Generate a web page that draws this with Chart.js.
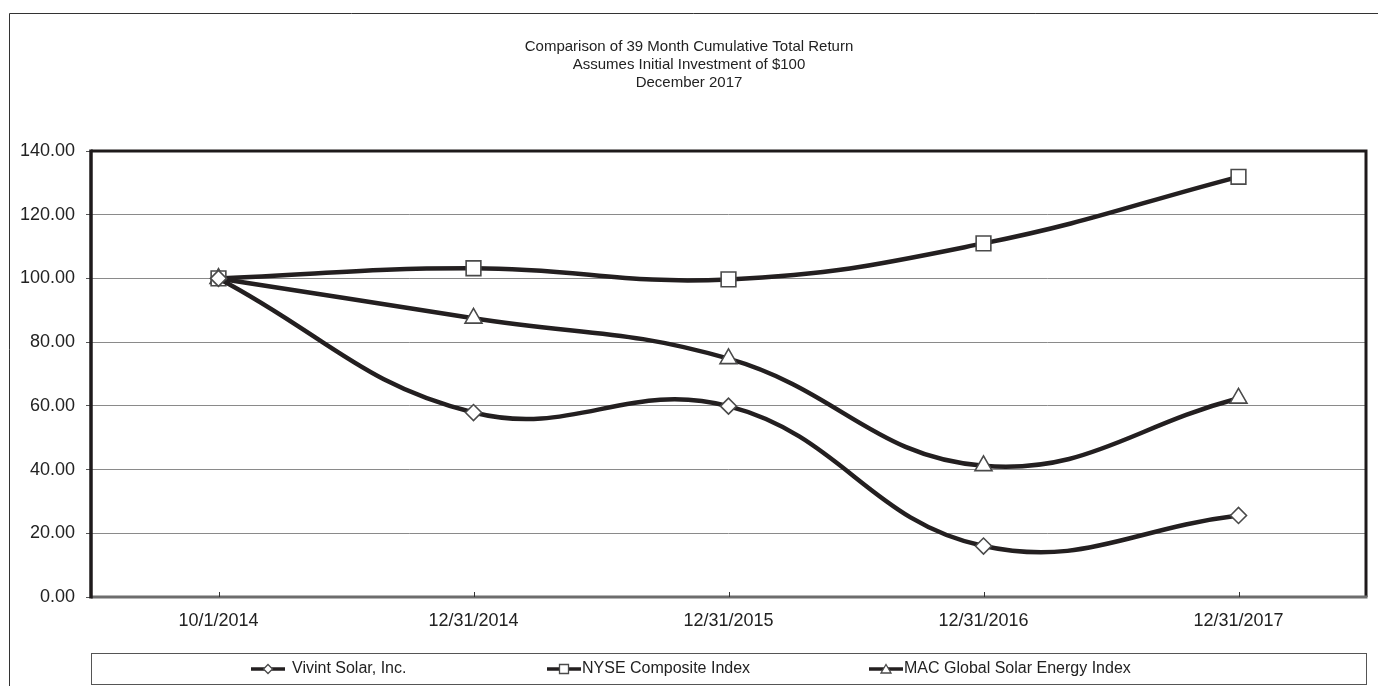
<!DOCTYPE html>
<html>
<head>
<meta charset="utf-8">
<script src="https://cdn.jsdelivr.net/npm/chart.js@4"></script>
<style>
html,body{margin:0;padding:0;background:#fff;}
#wrap{width:1378px;height:686px;position:relative;}
</style>
</head>
<body>
<div id="wrap"><canvas id="c" width="1378" height="686"></canvas></div>
<script>
const categories = ['10/1/2014', '12/31/2014', '12/31/2015', '12/31/2016', '12/31/2017'];
const vivint = [100.00, 57.9, 59.9, 16.0, 25.6];
const nyse = [100.00, 103.2, 99.7, 111.0, 131.9];
const mac = [100.00, 87.5, 74.8, 41.2, 62.4];
const seriesNames = ['Vivint Solar, Inc.', 'NYSE Composite Index', 'MAC Global Solar Energy Index'];
const titleLines = ['Comparison of 39 Month Cumulative Total Return', 'Assumes Initial Investment of $100', 'December 2017'];
const yTicks = [0, 20, 40, 60, 80, 100, 120, 140];

const FONT = '"Liberation Sans", Arial, sans-serif';
const LINE = '#231f20';
const MARK = '#4a4a4a';

const mk = (label, data, style, radius) => ({
  label, data,
  borderColor: LINE, borderWidth: 4.5,
  tension: 0.42,
  pointStyle: style, pointRadius: radius, pointHoverRadius: radius,
  pointBackgroundColor: '#fff', pointBorderColor: MARK, pointBorderWidth: 1.6,
  fill: false
});

const frame = {
  id: 'frame',
  beforeDraw(chart) {
    const ctx = chart.ctx;
    ctx.save();
    ctx.fillStyle = '#fff';
    ctx.fillRect(0, 0, chart.width, chart.height);
    ctx.strokeStyle = '#333';
    ctx.lineWidth = 1;
    ctx.beginPath();
    ctx.moveTo(9.5, 686); ctx.lineTo(9.5, 13.5); ctx.lineTo(1378, 13.5);
    ctx.stroke();
    ctx.fillStyle = '#222';
    ctx.font = '15px ' + FONT;
    ctx.textAlign = 'center';
    ctx.textBaseline = 'middle';
    titleLines.forEach((t, i) => ctx.fillText(t, 689, 47 + i * 18));
    ctx.restore();
  },
  afterDatasetsDraw(chart) {
    const ctx = chart.ctx;
    const a = chart.chartArea;
    const xs = chart.scales.x;
    ctx.save();
    ctx.strokeStyle = '#1e1a1b';
    ctx.lineWidth = 3;
    ctx.beginPath();
    ctx.moveTo(a.left, a.top); ctx.lineTo(a.right, a.top); ctx.lineTo(a.right, a.bottom);
    ctx.stroke();
    ctx.strokeStyle = '#6d6d6d';
    ctx.lineWidth = 3;
    ctx.beginPath(); ctx.moveTo(a.left, a.bottom); ctx.lineTo(a.right + 1.5, a.bottom); ctx.stroke();
    ctx.strokeStyle = '#1e1a1b';
    ctx.lineWidth = 3.5;
    ctx.beginPath(); ctx.moveTo(a.left, a.top - 1.5); ctx.lineTo(a.left, a.bottom + 1.5); ctx.stroke();
    ctx.strokeStyle = '#333';
    ctx.lineWidth = 1;
    categories.forEach((c, i) => {
      const x = Math.round(xs.getPixelForValue(i)) + 0.5;
      ctx.beginPath(); ctx.moveTo(x, a.bottom - 5); ctx.lineTo(x, a.bottom); ctx.stroke();
    });
    ctx.restore();
  },
  afterDraw(chart) {
    const ctx = chart.ctx;
    ctx.save();
    ctx.strokeStyle = '#555';
    ctx.lineWidth = 1;
    ctx.strokeRect(91.5, 653.5, 1275, 31);
    ctx.font = '16px ' + FONT;
    ctx.textBaseline = 'middle';
    ctx.textAlign = 'left';
    const starts = [251, 547, 869];
    const textX = [292, 582, 904];
    const cy = 669;
    chart.data.datasets.forEach((ds, i) => {
      const x0 = starts[i];
      ctx.strokeStyle = LINE;
      ctx.lineWidth = 3.5;
      ctx.beginPath(); ctx.moveTo(x0, cy); ctx.lineTo(x0 + 34, cy); ctx.stroke();
      const mx = x0 + 17;
      ctx.fillStyle = '#fff';
      ctx.strokeStyle = MARK;
      ctx.lineWidth = 1.3;
      ctx.beginPath();
      if (ds.pointStyle === 'rectRot') {
        ctx.moveTo(mx, cy - 4.5); ctx.lineTo(mx + 4.5, cy); ctx.lineTo(mx, cy + 4.5); ctx.lineTo(mx - 4.5, cy); ctx.closePath();
      } else if (ds.pointStyle === 'rect') {
        ctx.rect(mx - 4.5, cy - 4.5, 9, 9);
      } else {
        ctx.moveTo(mx, cy - 4.5); ctx.lineTo(mx + 5, cy + 4); ctx.lineTo(mx - 5, cy + 4); ctx.closePath();
      }
      ctx.fill(); ctx.stroke();
      ctx.fillStyle = '#222';
      ctx.fillText(ds.label, textX[i], cy);
    });
    ctx.restore();
  }
};

new Chart(document.getElementById('c'), {
  type: 'line',
  data: {
    labels: categories,
    datasets: [
      mk(seriesNames[0], vivint, 'rectRot', 8),
      mk(seriesNames[1], nyse, 'rect', 10.4),
      mk(seriesNames[2], mac, 'triangle', 9.8)
    ]
  },
  options: {
    responsive: false,
    animation: false,
    devicePixelRatio: 1,
    layout: { padding: { top: 151, right: 10, left: 0, bottom: 0 } },
    plugins: { legend: { display: false }, title: { display: false }, tooltip: { enabled: false } },
    scales: {
      x: {
        offset: true,
        grid: { display: false, drawTicks: false },
        border: { display: false },
        ticks: { color: '#222', font: { family: FONT, size: 18 }, padding: 13, maxRotation: 0 },
        afterFit(s) { s.height = 89; }
      },
      y: {
        min: 0, max: 140,
        afterBuildTicks(s) { s.ticks = yTicks.map(v => ({ value: v })); },
        grid: { color: '#8a8a8a', lineWidth: 1, tickLength: 5, tickColor: '#555' },
        border: { display: false },
        ticks: { color: '#222', font: { family: FONT, size: 18 }, padding: 11, callback: v => Number(v).toFixed(2) },
        afterFit(s) { s.width = 91; }
      }
    }
  },
  plugins: [frame]
});
</script>
</body>
</html>
